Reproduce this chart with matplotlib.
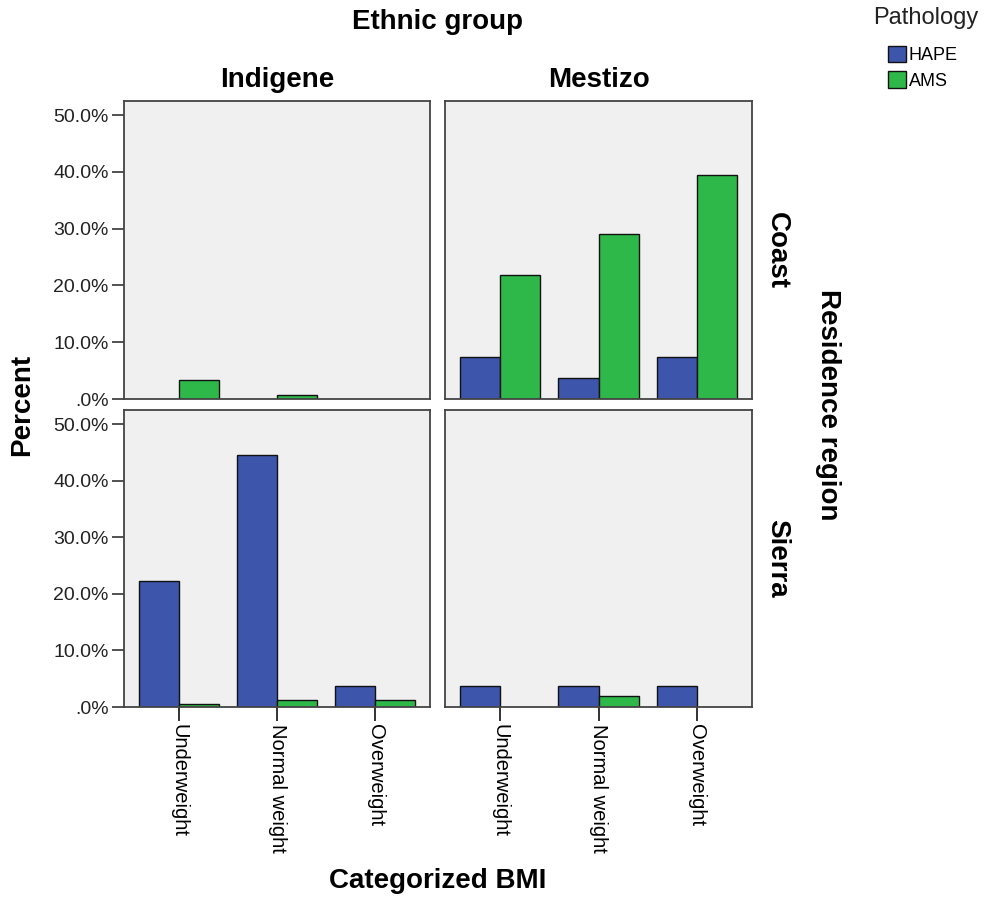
import numpy as np
import matplotlib
matplotlib.use("Agg")
import matplotlib.pyplot as plt
from matplotlib.ticker import FuncFormatter

plt.rcParams['font.family'] = ['Liberation Sans', 'DejaVu Sans']

categories = ["Underweight", "Normal weight", "Overweight"]
ethnic_groups = ["Indigene", "Mestizo"]
regions = ["Coast", "Sierra"]
series_names = ["HAPE", "AMS"]

# percent values
hape_indigene_coast = [0.0, 0.0, 0.0]
ams_indigene_coast = [3.3, 0.7, 0.0]
hape_mestizo_coast = [7.4, 3.7, 7.4]
ams_mestizo_coast = [21.8, 29.0, 39.5]
hape_indigene_sierra = [22.2, 44.5, 3.7]
ams_indigene_sierra = [0.6, 1.2, 1.2]
hape_mestizo_sierra = [3.7, 3.7, 3.7]
ams_mestizo_sierra = [0.0, 1.9, 0.0]

panels = {
    ("Coast", "Indigene"): (hape_indigene_coast, ams_indigene_coast),
    ("Coast", "Mestizo"): (hape_mestizo_coast, ams_mestizo_coast),
    ("Sierra", "Indigene"): (hape_indigene_sierra, ams_indigene_sierra),
    ("Sierra", "Mestizo"): (hape_mestizo_sierra, ams_mestizo_sierra),
}

colors = ["#3d55ab", "#2eb84a"]
W, H = 984, 899

fig = plt.figure(figsize=(W / 100, H / 100), dpi=100)


def px_axes(x0, y0, x1, y1):
    return fig.add_axes([x0 / W, 1 - y1 / H, (x1 - x0) / W, (y1 - y0) / H])


def pct(v, pos):
    s = "%.1f%%" % v
    if s.startswith("0"):
        s = s[1:]
    return s


col_x = [(124, 430), (445, 752)]
row_y = [(101, 399), (410, 707)]
bw = 0.41
x = np.arange(len(categories))
handles = []

for r, region in enumerate(regions):
    for c, eth in enumerate(ethnic_groups):
        ax = px_axes(col_x[c][0], row_y[r][0], col_x[c][1], row_y[r][1])
        ax.set_facecolor("#f0f0f0")
        hape, ams = panels[(region, eth)]
        for k, vals in enumerate([hape, ams]):
            offs = -bw / 2 if k == 0 else bw / 2
            xs = [xi + offs for xi, v in zip(x, vals) if v > 0]
            hs = [v for v in vals if v > 0]
            b = ax.bar(xs, hs, width=bw, color=colors[k], edgecolor="#111111",
                       linewidth=1.0, label=series_names[k])
            if r == 0 and c == 1:
                handles.append(b)
        ax.set_xlim(-0.56, 2.56)
        ax.set_ylim(0, 52.5)
        ax.set_yticks([0, 10, 20, 30, 40, 50])
        ax.yaxis.set_major_formatter(FuncFormatter(pct))
        ax.set_xticks(x)
        for sp in ax.spines.values():
            sp.set_color("#444444")
            sp.set_linewidth(1.3)
        ax.tick_params(axis="y", direction="out", length=9, width=1.2,
                       color="#333333", labelsize=14, labelcolor="#222222",
                       left=(c == 0), labelleft=(c == 0), pad=2)
        if r == 1:
            ax.tick_params(axis="x", direction="out", length=10, width=1.2,
                           color="#111111", pad=2, labelsize=14.5)
            ax.set_xticklabels(categories, rotation=-90, ha="center", va="top")
        else:
            ax.tick_params(axis="x", bottom=False, labelbottom=False)
        if r == 0:
            ax.set_title(eth, fontsize=20, fontweight="bold", pad=10)
        if c == 1:
            ax.text(1.04, 0.5, region, transform=ax.transAxes, rotation=-90,
                    ha="left", va="center", fontsize=20, fontweight="bold")

fig.text(437 / W, 1 - 22 / H, "Ethnic group", ha="center", va="center",
         fontsize=20, fontweight="bold")
fig.text(438 / W, 1 - 881 / H, "Categorized BMI", ha="center", va="center",
         fontsize=20, fontweight="bold")
fig.text(22 / W, 1 - 405 / H, "Percent", ha="center", va="center",
         rotation=90, fontsize=20, fontweight="bold")
fig.text(828 / W, 1 - 405 / H, "Residence region", ha="center", va="center",
         rotation=-90, fontsize=20, fontweight="bold")

# legend
fig.text(926 / W, 1 - 18 / H, "Pathology", ha="center", va="center",
         fontsize=17, color="#222222")
fig.legend(handles=handles, labels=series_names, loc="upper left",
           bbox_to_anchor=(888 / W, 1 - 46 / H), frameon=False,
           fontsize=13, handlelength=1.0, handleheight=1.0,
           handletextpad=0.15, labelspacing=0.4, borderaxespad=0,
           borderpad=0)

fig.savefig("out.png", dpi=100)
